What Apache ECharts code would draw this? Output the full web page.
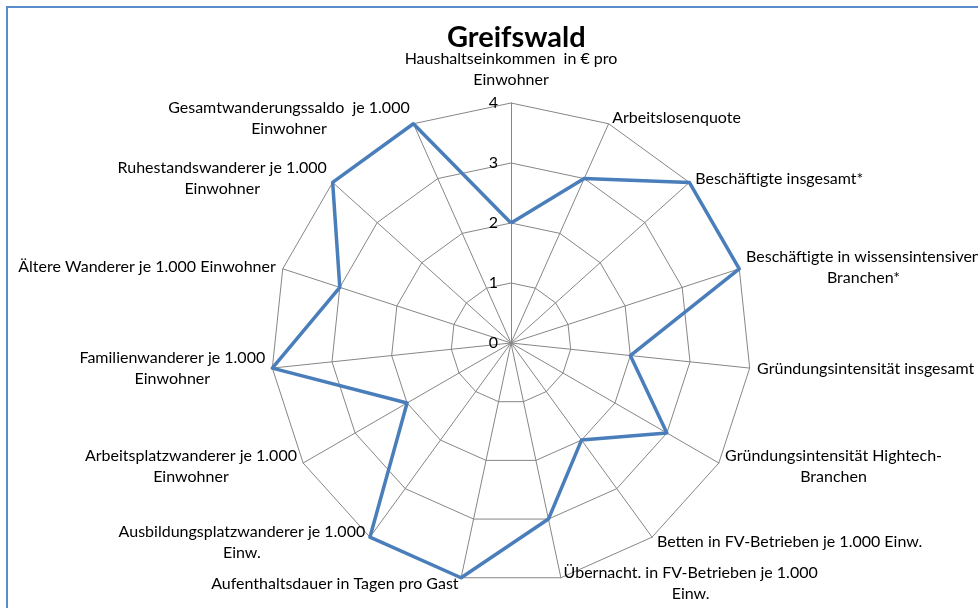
<!DOCTYPE html>
<html>
<head>
<meta charset="utf-8">
<script src="https://cdn.jsdelivr.net/npm/echarts@6/dist/echarts.min.js"></script>
<style>
  html, body { margin: 0; padding: 0; background: #fff; }
  #frame { position: absolute; left: 6px; top: 6px; width: 1000px; height: 640px;
           border-left: 2px solid #5a8bcb; border-top: 2px solid #5a8bcb; }
  #chart { position: absolute; left: 0; top: 0; width: 978px; height: 608px; }
</style>
</head>
<body>
<div id="frame"></div>
<div id="chart"></div>
<script>
// Kategorien im Uhrzeigersinn, beginnend oben
var categories = [
  'Haushaltseinkommen  in € pro\nEinwohner',
  'Arbeitslosenquote',
  'Beschäftigte insgesamt*',
  'Beschäftigte in wissensintensiven\nBranchen*',
  'Gründungsintensität insgesamt',
  'Gründungsintensität Hightech-\nBranchen',
  'Betten in FV-Betrieben je 1.000 Einw.',
  'Übernacht. in FV-Betrieben je 1.000\nEinw.',
  'Aufenthaltsdauer in Tagen pro Gast',
  'Ausbildungsplatzwanderer je 1.000\nEinw.',
  'Arbeitsplatzwanderer je 1.000\nEinwohner',
  'Familienwanderer je 1.000\nEinwohner',
  'Ältere Wanderer je 1.000 Einwohner',
  'Ruhestandswanderer je 1.000\nEinwohner',
  'Gesamtwanderungssaldo  je 1.000\nEinwohner'
];
var values = [2, 3, 4, 4, 2, 3, 2, 3, 4, 4, 2, 4, 3, 4, 4];
var axisMin = 0;
var axisMax = 4;

var FONT = 'Lato, "Open Sans", sans-serif';
var FS = 16;

// ECharts legt Radar-Achsen gegen den Uhrzeigersinn an -> Reihenfolge umdrehen
function toCCW(arr) {
  return [arr[0]].concat(arr.slice(1).reverse());
}

// Breite für zentrierte mehrzeilige Beschriftungen messen
var ctx = document.createElement('canvas').getContext('2d');
ctx.font = FS + 'px ' + FONT;
var rich = {};
categories.forEach(function (c, i) {
  var w = 0;
  c.split('\n').forEach(function (l) { w = Math.max(w, ctx.measureText(l).width); });
  rich['r' + i] = { align: 'center', width: Math.ceil(w) + 2, fontSize: FS, fontFamily: FONT, color: '#000', lineHeight: 21 };
});

var indicators = toCCW(categories.map(function (c, i) {
  var ind = { name: c, min: axisMin, max: axisMax, idx: i };
  if (i === 0) {
    ind.axisLabel = { show: true };
    ind.nameGap = 13;
  }
  return ind;
}));

var chart = echarts.init(document.getElementById('chart'));
chart.setOption({
  animation: false,
  title: {
    text: 'Greifswald',
    left: 442,
    top: 18,
    textStyle: { fontSize: 29, fontWeight: 'bold', color: '#000', fontFamily: FONT }
  },
  radar: {
    center: [511, 343],
    radius: 240,
    shape: 'polygon',
    splitNumber: 4,
    indicator: indicators,
    axisName: {
      color: '#000',
      fontSize: FS,
      fontFamily: FONT,
      formatter: function (name, ind) {
        return name.split('\n').map(function (l) {
          return '{r' + ind.idx + '|' + l + '}';
        }).join('\n');
      },
      rich: rich
    },
    nameGap: 6,
    axisLine: { lineStyle: { color: '#868686', width: 1 } },
    splitLine: { lineStyle: { color: '#868686', width: 1 } },
    splitArea: { show: false },
    axisTick: { show: false },
    axisLabel: {
      show: false,
      color: '#000',
      fontSize: 16,
      margin: 13,
      fontFamily: FONT
    }
  },
  series: [{
    type: 'radar',
    symbol: 'none',
    lineStyle: { color: '#4a7ebb', width: 3.5 },
    data: [{ value: toCCW(values), name: 'Greifswald' }]
  }]
});
</script>
</body>
</html>
